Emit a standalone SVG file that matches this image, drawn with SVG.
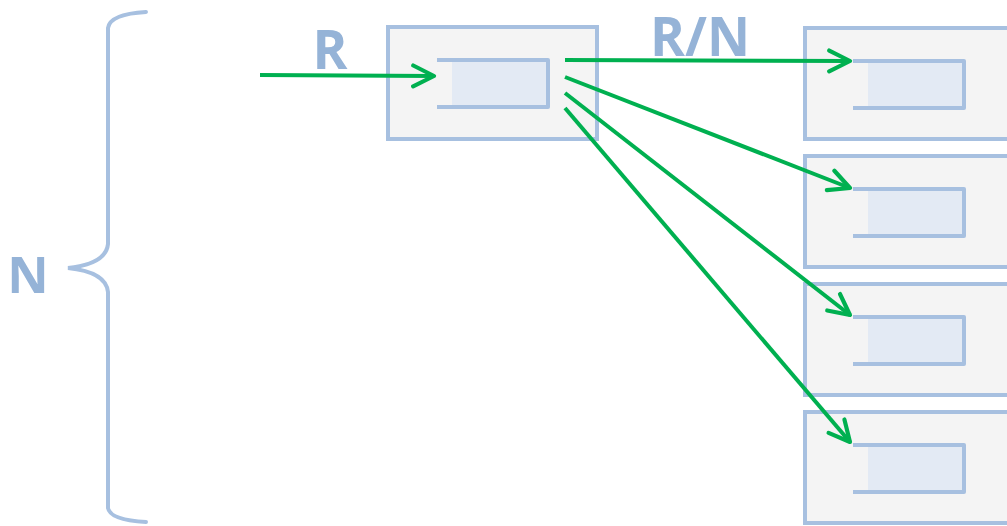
<svg xmlns="http://www.w3.org/2000/svg" width="1007" height="526" viewBox="0 0 1007 526">
  <style>
    .box { fill: #F4F4F4; stroke: #A7C0E0; stroke-width: 4; }
    .slot { fill: #E3EAF4; stroke: none; }
    .bracket { fill: none; stroke: #A7C0E0; stroke-width: 4; stroke-linejoin: round; }
    .label { font-family: "Open Sans", "Liberation Sans", sans-serif; font-weight: bold; fill: #95B3D7; }
    .link { fill: none; stroke: #00B050; stroke-width: 4; marker-end: url(#head); }
    .brace { fill: none; stroke: #A7C0E0; stroke-width: 4; stroke-linecap: round; }
  </style>
  <defs>
    <marker id="head" viewBox="0 0 10 10" refX="9" refY="5" markerWidth="6.5" markerHeight="6.5" markerUnits="strokeWidth" orient="auto">
      <path d="M1,1 L9,5 L1,9" fill="none" stroke="#00B050" stroke-width="1.6" stroke-linecap="round" stroke-linejoin="round"/>
    </marker>
  </defs>

  <rect width="1007" height="526" fill="#FFFFFF"/>

  <!-- brace spanning the N receivers -->
  <g id="brace">
    <path class="brace" d="M146,12 Q110,14 108,28 L108,244 Q106,264 68,268 Q106,272 108,292 L108,508 Q110,520 146,522"/>
    <text class="label" x="28" y="293" font-size="51" text-anchor="middle">N</text>
  </g>

  <!-- sender -->
  <g id="source">
    <rect class="box" x="388" y="27" width="209" height="112"/>
    <rect class="slot" x="452" y="60" width="96" height="47"/>
    <path class="bracket" d="M437,60 L548,60 L548,107 L437,107"/>
  </g>

  <!-- receivers -->
  <g id="target1">
    <rect class="box" x="805" y="28" width="210" height="111"/>
    <rect class="slot" x="868" y="61" width="96" height="47"/>
    <path class="bracket" d="M853,61 L964,61 L964,108 L853,108"/>
  </g>
  <g id="target2">
    <rect class="box" x="805" y="156" width="210" height="111"/>
    <rect class="slot" x="868" y="189" width="96" height="47"/>
    <path class="bracket" d="M853,189 L964,189 L964,236 L853,236"/>
  </g>
  <g id="target3">
    <rect class="box" x="805" y="284" width="210" height="111"/>
    <rect class="slot" x="868" y="317" width="96" height="47"/>
    <path class="bracket" d="M853,317 L964,317 L964,364 L853,364"/>
  </g>
  <g id="target4">
    <rect class="box" x="805" y="412" width="210" height="111"/>
    <rect class="slot" x="868" y="445" width="96" height="47"/>
    <path class="bracket" d="M853,445 L964,445 L964,492 L853,492"/>
  </g>

  <!-- rate labels -->
  <text class="label" x="330" y="69" font-size="53" text-anchor="middle">R</text>
  <text class="label" x="700" y="56" font-size="53" text-anchor="middle">R/N</text>

  <!-- connectors -->
  <g id="connectors">
    <line class="link" x1="260" y1="75" x2="434" y2="76"/>
    <line class="link" x1="565" y1="60" x2="850" y2="61"/>
    <line class="link" x1="565" y1="77" x2="850" y2="188"/>
    <line class="link" x1="565" y1="93" x2="850" y2="315"/>
    <line class="link" x1="565" y1="108" x2="850" y2="442"/>
  </g>
</svg>
